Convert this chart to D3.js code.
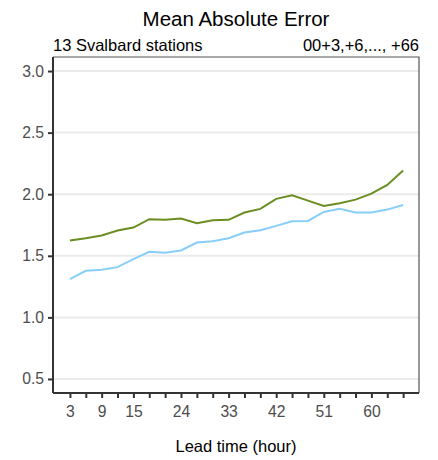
<!DOCTYPE html>
<html><head><meta charset="utf-8">
<script src="https://cdn.jsdelivr.net/npm/d3@7"></script>
<style>body{margin:0;background:#fff}svg{display:block;font-family:"Liberation Sans",Arial,sans-serif}</style>
</head><body><svg id="c" width="438" height="460"></svg>
<script>
const leadTimes = [3,6,9,12,15,18,21,24,27,30,33,36,39,42,45,48,51,54,57,60,63,66];
const seriesGreen = [1.624,1.643,1.665,1.705,1.729,1.797,1.792,1.802,1.765,1.789,1.792,1.851,1.881,1.962,1.992,1.948,1.905,1.927,1.956,2.005,2.075,2.192];
const seriesBlue = [1.310,1.378,1.386,1.408,1.473,1.532,1.524,1.543,1.608,1.619,1.643,1.689,1.708,1.743,1.781,1.783,1.856,1.881,1.851,1.851,1.875,1.913];
const xTickLabels = [3,9,15,24,33,42,51,60];
const yTicks = [0.5,1.0,1.5,2.0,2.5,3.0];
const title = "Mean Absolute Error";
const subLeft = "13 Svalbard stations";
const subRight = "00+3,+6,..., +66";
const xTitle = "Lead time (hour)";

const svg = d3.select("#c");
const L=53,R=419,T=57,B=393;
const x = d3.scaleLinear().domain([-0.2,69]).range([L,R]);
const y = d3.scaleLinear().domain([0.386,3.114]).range([B,T]);

// grid
svg.append("g").selectAll("line").data(yTicks).join("line")
  .attr("x1",L).attr("x2",R).attr("y1",d=>y(d)).attr("y2",d=>y(d))
  .attr("stroke","#ebebeb").attr("stroke-width",2);

// lines
const line = d3.line().x((d,i)=>x(leadTimes[i])).y(d=>y(d));
svg.append("path").datum(seriesBlue).attr("d",line).attr("fill","none").attr("stroke","#87cefa").attr("stroke-width",2);
svg.append("path").datum(seriesGreen).attr("d",line).attr("fill","none").attr("stroke","#6b8e23").attr("stroke-width",2);

// top/right border
svg.append("path").attr("d",`M${L},${T}H${R}V${B}`).attr("fill","none").attr("stroke","#555").attr("stroke-width",1.2);

// y axis
const ya = svg.append("g").attr("transform",`translate(${L},0)`)
  .call(d3.axisLeft(y).tickValues(yTicks).tickFormat(d3.format(".1f")).tickSize(5).tickPadding(4));
// x axis
const xa = svg.append("g").attr("transform",`translate(0,${B})`)
  .call(d3.axisBottom(x).tickValues(leadTimes).tickFormat(d=>xTickLabels.includes(d)?d:"").tickSize(5).tickPadding(8));
[ya,xa].forEach(g=>{
  g.select(".domain").attr("stroke","#333").attr("stroke-width",2);
  g.selectAll(".tick line").attr("stroke","#333").attr("stroke-width",2);
  g.selectAll("text").attr("fill","#4d4d4d").attr("font-size",15.7).attr("font-family","Liberation Sans, Arial, sans-serif");
});
ya.select(".domain").attr("d",`M0,${T}V${B}`);
xa.select(".domain").attr("d",`M${L},0H${R}`);

svg.append("text").attr("x",(L+R)/2).attr("y",26).attr("text-anchor","middle").attr("font-size",20.5).attr("fill","#000").text(title);
svg.append("text").attr("x",L).attr("y",51).attr("font-size",16.5).attr("fill","#000").text(subLeft);
svg.append("text").attr("x",R).attr("y",51).attr("text-anchor","end").attr("font-size",16.5).attr("fill","#000").text(subRight);
svg.append("text").attr("x",(L+R)/2).attr("y",452).attr("text-anchor","middle").attr("font-size",16.5).attr("fill","#000").text(xTitle);
</script></body></html>
